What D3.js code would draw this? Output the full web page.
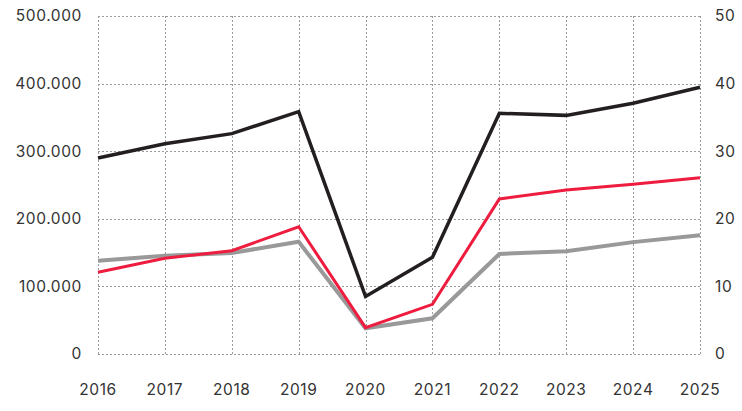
<!DOCTYPE html>
<html>
<head>
<meta charset="utf-8">
<script src="https://cdn.jsdelivr.net/npm/d3@7"></script>
<style>
  html, body { margin: 0; padding: 0; background: #fff; }
  svg { display: block; }
  text { font-family: Inter, "Noto Sans", sans-serif; fill: #333; letter-spacing: 0.6px; }
</style>
</head>
<body>
<svg id="chart" width="742" height="411"></svg>
<script>
// years on the x axis
const years = [2016, 2017, 2018, 2019, 2020, 2021, 2022, 2023, 2024, 2025];

// series values (in left-axis units)
const blackSeries = [290000, 311000, 326000, 358500, 85000, 143000, 356000, 353000, 371000, 394500];
const redSeries   = [121000, 141500, 152800, 188200, 39000, 73500, 229300, 242600, 251000, 260800];
const graySeries  = [138000, 145400, 149500, 166000, 38000, 52800, 148000, 152000, 165500, 175500];

// tick labels
const leftTicks  = [0, 100000, 200000, 300000, 400000, 500000];
const leftLabels = ["0", "100.000", "200.000", "300.000", "400.000", "500.000"];
const rightTicks = [0, 10, 20, 30, 40, 50];

const series = [
  { name: "gray",  values: graySeries,  color: "#999999", width: 4 },
  { name: "red",   values: redSeries,   color: "#ee1c3e", width: 3 },
  { name: "black", values: blackSeries, color: "#231f20", width: 3.5 }
];

const svg = d3.select("#chart");
const margin = { left: 98, right: 42, top: 16, bottom: 57 };
const W = 742, H = 411;

const x = d3.scalePoint().domain(years).range([margin.left, W - margin.right]);
const y = d3.scaleLinear().domain([0, 500000]).range([H - margin.bottom, margin.top]);
const y2 = d3.scaleLinear().domain([0, 50]).range([H - margin.bottom, margin.top]);

// grid
const grid = svg.append("g")
  .attr("stroke", "#9a9a9a")
  .attr("stroke-width", 1)
  .attr("stroke-dasharray", "2,2")
  .attr("shape-rendering", "crispEdges");

grid.selectAll("line.h")
  .data(leftTicks)
  .join("line")
  .attr("class", "h")
  .attr("x1", margin.left).attr("x2", W - margin.right)
  .attr("y1", d => Math.round(y(d)) + 0.5).attr("y2", d => Math.round(y(d)) + 0.5);

grid.selectAll("line.v")
  .data(years)
  .join("line")
  .attr("class", "v")
  .attr("y1", margin.top).attr("y2", H - margin.bottom)
  .attr("x1", d => Math.round(x(d)) + 0.5).attr("x2", d => Math.round(x(d)) + 0.5);

// left axis labels
svg.append("g")
  .selectAll("text")
  .data(leftTicks)
  .join("text")
  .attr("x", 82)
  .attr("y", d => y(d))
  .attr("dy", "0.35em")
  .attr("text-anchor", "end")
  .attr("font-size", 15.5)
  .text((d, i) => leftLabels[i]);

// right axis labels
svg.append("g")
  .selectAll("text")
  .data(rightTicks)
  .join("text")
  .attr("x", 715)
  .attr("y", d => y2(d))
  .attr("dy", "0.35em")
  .attr("text-anchor", "start")
  .attr("font-size", 15.5)
  .text(d => d);

// x axis labels
svg.append("g")
  .selectAll("text")
  .data(years)
  .join("text")
  .attr("x", d => x(d))
  .attr("y", 395)
  .attr("text-anchor", "middle")
  .attr("font-size", 15.5)
  .text(d => d);

// lines
const line = d3.line()
  .x((d, i) => x(years[i]))
  .y(d => y(d));

svg.append("g")
  .selectAll("path")
  .data(series)
  .join("path")
  .attr("fill", "none")
  .attr("stroke", d => d.color)
  .attr("stroke-width", d => d.width)
  .attr("stroke-linejoin", "miter")
  .attr("d", d => line(d.values));
</script>
</body>
</html>
